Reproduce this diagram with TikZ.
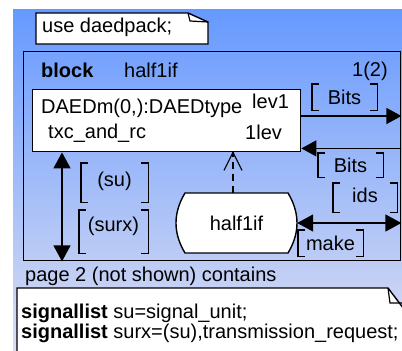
\documentclass[tikz,border=0pt]{standalone}
\usepackage{fontspec}
\setmainfont{Liberation Sans}
\usetikzlibrary{arrows.meta,calc}
\definecolor{bgtop}{HTML}{6699FF}
\definecolor{bgmid}{HTML}{86B0F6}
\definecolor{bgbot}{HTML}{DCDEF2}
\newcommand\drawbrackets[1]{%
  \draw[brk] ($(#1.north west)+(7,0)$) -- (#1.north west) -- (#1.south west) -- ($(#1.south west)+(7,0)$);
  \draw[brk] ($(#1.north east)+(-7,0)$) -- (#1.north east) -- (#1.south east) -- ($(#1.south east)+(-7,0)$);}
\begin{document}
\begin{tikzpicture}[x=1pt,y=-1pt,
  font=\fontsize{20}{24}\selectfont,
  lbl/.style={inner sep=0pt, anchor=base west},
  box/.style={draw, line width=1.4pt, inner sep=0pt, anchor=north west},
  brk/.style={line width=1.4pt},
  bnode/.style={inner sep=0pt, minimum width=#1},
  sig/.style={line width=1.4pt, -{Triangle[length=15pt,width=16pt]}},
  sigboth/.style={line width=1.4pt, {Triangle[length=16pt,width=17pt]}-{Triangle[length=16pt,width=17pt]}},
  creat/.style={line width=1.2pt, dash pattern=on 7pt off 5pt},
  barb/.style={line width=1.2pt}
]
\useasboundingbox (0,0) rectangle (402,351);
\clip (0,0) rectangle (402,351);
\shade[top color=bgtop, middle color=bgmid, bottom color=bgbot] (13,9) rectangle (402,351);

% use clause
\draw[line width=1.4pt, fill=white] (36,13) -- (188,13) -- (208,22) -- (208,44) -- (36,44) -- cycle;
\draw[line width=1.2pt] (188,13) -- (190,21) -- (208,22);
\node[lbl] (use) at (42,32) {use daedpack;};

% block frame
\node[box, minimum width=377pt, minimum height=209pt] (frame) at (23,51) {};
\node[lbl] (kw) at (41,77) {\bfseries block};
\node[lbl] (bname) at (124,77) {half1if};
\node[lbl] (page) at (352,76) {1(2)};

% process
\node[box, fill=white, minimum width=268pt, minimum height=62pt] (d) at (32,89) {};
\node[lbl] (dt1) at (41,113) {DAEDm(0,):DAEDtype};
\node[lbl] (dt2) at (48,138) {txc\_and\_rc};
\node[lbl] (g1) at (252,108) {lev1};
\node[lbl] (g2) at (245,139) {1lev};

% half1if shape
\draw[line width=1.4pt, fill=white] (185,193) -- (288,193)
  .. controls (300,213) and (300,233) .. (288,253) -- (185,253)
  .. controls (173,233) and (173,213) .. cycle;
\node[inner sep=0pt, minimum width=121pt, minimum height=60pt] (h) at (236.5,223) {half1if};

% dashed create line with open arrowhead
\coordinate (hn) at ($(h.north)+(-3.5,0)$);
\coordinate (ht) at (hn |- d.south);
\draw[creat] (hn) -- (ht);
\draw[barb] ($(ht)+(-9,18)$) -- (ht) -- ($(ht)+(9,18)$);

% right channels
\coordinate (o1) at ($(d.north east)+(0,27)$);
\draw[sig] (o1) -- (o1 -| frame.east);
\coordinate (i1) at ($(d.south east)+(0,-4)$);
\draw[sig] (i1 -| frame.east) -- (i1);
\draw[sigboth] (h.east) -- (h.east -| frame.east);

% left channel
\coordinate (lv) at ($(d.south west)+(30,0)$);
\draw[sigboth] (lv) -- (lv |- frame.south);

% signal lists
\node[bnode=65pt, minimum height=26pt] (b1) at (344.5,97) {Bits};
\drawbrackets{b1}
\node[bnode=65pt, minimum height=24pt] (b2) at (350.5,165) {Bits};
\drawbrackets{b2}
\node[bnode=64pt, minimum height=29pt, text depth=4pt] (b3) at (365,197.5) {ids};
\drawbrackets{b3}
\node[bnode=65pt, minimum height=26pt] (b4) at (330.5,243) {make};
\drawbrackets{b4}
\node[bnode=67pt, minimum height=39pt, text depth=7pt] (b5) at (114.5,182.5) {(su)};
\drawbrackets{b5}
\node[bnode=69pt, minimum height=43pt, text depth=14pt] (b6) at (113.5,231.5) {(surx)};
\drawbrackets{b6}

% page 2 text
\node[lbl] (p2) at (25,281) {page 2 (not shown) contains};
\draw[line width=1.4pt, fill=white] (17,288) -- (388,288) -- (410,317) -- (410,360) -- (17,360) -- cycle;
\draw[line width=1.2pt] (388,288) -- (390,303) -- (410,303);
\node[lbl] (s1) at (21,318) {\bfseries signallist\mdseries{} su=signal\_unit;};
\node[lbl] (s2) at (21,338) {\bfseries signallist\mdseries{} surx=(su),transmission\_request;};
\end{tikzpicture}
\end{document}
